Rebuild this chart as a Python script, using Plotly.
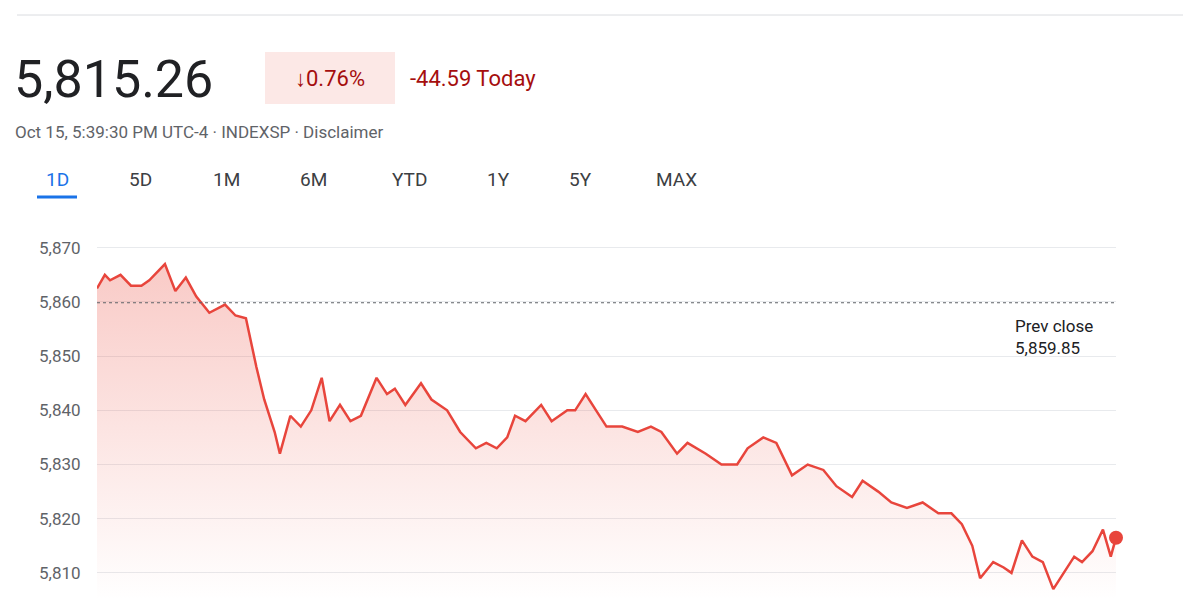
import plotly.graph_objects as go

# minutes after 9:30 open, index level
minutes = [0, 3, 5, 9, 13, 17, 20, 24, 26, 30, 34, 38, 43, 49, 53, 57, 61, 64, 68, 70,
           74, 78, 82, 86, 89, 93, 97, 101, 107, 111, 114, 118, 124, 128, 134, 139, 145,
           149, 153, 157, 160, 164, 170, 174, 180, 183, 187, 191, 195, 201, 207, 212,
           216, 222, 226, 233, 239, 245, 249, 255, 260, 266, 272, 278, 283, 289, 293,
           299, 304, 310, 316, 322, 327, 331, 335, 338, 343, 347, 350, 354, 358, 362,
           366, 370, 374, 377, 381, 385, 388, 390]
level = [5862.5, 5865, 5864, 5865, 5863, 5863, 5864, 5866, 5867, 5862, 5864.5, 5861,
         5858, 5859.5, 5857.5, 5857, 5848, 5842, 5836, 5832, 5839, 5837, 5840, 5846,
         5838, 5841, 5838, 5839, 5846, 5843, 5844, 5841, 5845, 5842, 5840, 5836, 5833,
         5834, 5833, 5835, 5839, 5838, 5841, 5838, 5840, 5840, 5843, 5840, 5837, 5837,
         5836, 5837, 5836, 5832, 5834, 5832, 5830, 5830, 5833, 5835, 5834, 5828, 5830,
         5829, 5826, 5824, 5827, 5825, 5823, 5822, 5823, 5821, 5821, 5819, 5815, 5809,
         5812, 5811, 5810, 5816, 5813, 5812, 5807, 5810, 5813, 5812, 5814, 5818, 5813,
         5816.5]
prev_close = 5859.85
y_floor = 5805
tabs = ["1D", "5D", "1M", "6M", "YTD", "1Y", "5Y", "MAX"]
tab_px = [57, 140, 226, 313, 409, 498, 580, 676]

RED = "#e8453c"
DARK_RED = "#a50e0e"

def px_x(p):
    return (p - 97) / 1019

def px_y(p):
    return (600 - p) / 375

def label(px, py, text, size, color, anchor="left"):
    fig.add_annotation(x=px_x(px), y=px_y(py), xref="paper", yref="paper", text=text,
                       showarrow=False, xanchor=anchor, yanchor="middle",
                       font=dict(size=size, color=color))

fig = go.Figure()
fig.add_trace(go.Scatter(x=minutes, y=[y_floor] * len(minutes), mode="lines",
                         line=dict(width=0), hoverinfo="skip", showlegend=False))
fig.add_trace(go.Scatter(
    x=minutes, y=level, mode="lines", fill="tonexty",
    line=dict(color=RED, width=2.5), showlegend=False,
    fillgradient=dict(type="vertical",
                      colorscale=[[0, "rgba(234,67,53,0.0)"], [1, "rgba(234,67,53,0.28)"]]),
))
fig.add_trace(go.Scatter(x=[minutes[-1]], y=[level[-1]], mode="markers", cliponaxis=False,
                         marker=dict(color=RED, size=14), showlegend=False))

fig.add_hline(y=prev_close, line=dict(color="#5f6368", width=1.2, dash="dot"))
fig.add_annotation(x=px_x(1013), y=prev_close - 2, xref="paper", yref="y",
                   text="Prev close<br>5,859.85", showarrow=False, xanchor="left",
                   yanchor="top", align="left", font=dict(size=17, color="#202124"))

# header
fig.add_shape(type="line", xref="paper", yref="paper", x0=px_x(17), x1=px_x(1183),
              y0=px_y(15), y1=px_y(15), line=dict(color="#dadce0", width=1))
label(12, 80, "5,815.26", 52, "#202124")
fig.add_shape(type="rect", xref="paper", yref="paper", x0=px_x(265), x1=px_x(395),
              y0=px_y(104), y1=px_y(52), fillcolor="#fce8e6", line=dict(width=0))
label(330, 78, "↓0.76%", 22, DARK_RED, "center")
label(408, 78, "-44.59 Today", 22, DARK_RED)
label(13, 132, "Oct 15, 5:39:30 PM UTC-4 · INDEXSP · Disclaimer", 17, "#5f6368")
for t, p in zip(tabs, tab_px):
    label(p, 180, t, 19, "#1a73e8" if t == "1D" else "#3c4043", "center")
fig.add_shape(type="line", xref="paper", yref="paper", x0=px_x(37), x1=px_x(77),
              y0=px_y(197), y1=px_y(197), line=dict(color="#1a73e8", width=3))

fig.update_layout(
    width=1200, height=600, autosize=False,
    margin=dict(l=89, r=92, t=217, b=8),
    plot_bgcolor="white", paper_bgcolor="white",
    font=dict(family="Roboto, Arial", color="#5f6368"),
    xaxis=dict(range=[0, 390], visible=False),
    yaxis=dict(range=[y_floor, 5874.2], tickvals=[5810, 5820, 5830, 5840, 5850, 5860, 5870],
               ticktext=["5,810", "5,820", "5,830", "5,840", "5,850", "5,860", "5,870"],
               gridcolor="#e8eaed", zeroline=False, ticks="outside", ticklen=12,
               tickcolor="white", tickfont=dict(size=17, color="#5f6368")),
)

fig.write_html("out.html")
